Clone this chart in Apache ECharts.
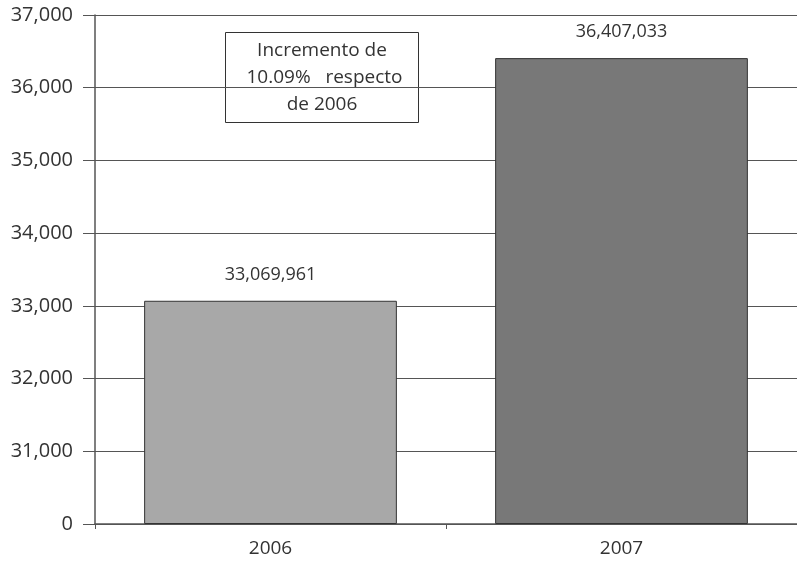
<!DOCTYPE html>
<html>
<head>
<meta charset="utf-8">
<script src="https://cdn.jsdelivr.net/npm/echarts@6/dist/echarts.min.js"></script>
<style>html,body{margin:0;padding:0;background:#fff}#c{width:797px;height:561px}</style>
</head>
<body>
<div id="c"></div>
<script>
// Data
var categories = ['2006', '2007'];
var values = [33069961, 36407033];
var barColors = ['#a8a8a8', '#787878'];
// Axis is broken: bottom tick is 0, then 31,000 .. 37,000 (thousands)
var axisBase = 30000;           // thousands hidden by the axis break
var tickLabels = ['0', '31,000', '32,000', '33,000', '34,000', '35,000', '36,000', '37,000'];
var noteLines = ['Incremento de', ' 10.09%   respecto', 'de 2006'];

function fmt(n) { return n.toString().replace(/\B(?=(\d{3})+(?!\d))/g, ','); }

var chart = echarts.init(document.getElementById('c'));
var FONT = '"Open Sans", sans-serif';
chart.setOption({
  animation: false,
  grid: { left: 95, right: 0, top: 15, bottom: 37, containLabel: false },
  xAxis: {
    type: 'category',
    data: categories,
    axisLine: { show: true, lineStyle: { color: '#555', width: 1.5 } },
    axisTick: { show: true, length: 5, lineStyle: { color: '#555' } },
    axisLabel: { color: '#333', fontSize: 19, fontFamily: FONT, margin: 15 },
    splitLine: { show: false }
  },
  yAxis: {
    type: 'value',
    min: 0, max: 7000, interval: 1000,
    axisLine: { show: true, lineStyle: { color: '#555', width: 1.5 } },
    axisTick: { show: true, length: 12, lineStyle: { color: '#555' } },
    axisLabel: {
      color: '#333', fontSize: 20, fontFamily: FONT, margin: 22,
      formatter: function (v) { return tickLabels[Math.round(v / 1000)]; }
    },
    splitLine: { show: true, lineStyle: { color: '#555', width: 1.2 } }
  },
  series: [{
    type: 'bar',
    barWidth: '72%',
    data: values.map(function (v, i) {
      return { value: v / 1000 - axisBase, itemStyle: { color: barColors[i] } };
    }),
    itemStyle: { borderColor: '#333', borderWidth: 1 },
    label: {
      show: true, position: 'top', distance: 17,
      color: '#333', fontSize: 18, fontFamily: FONT,
      formatter: function (p) { return fmt(values[p.dataIndex]); }
    }
  }],
  graphic: [{
    type: 'group', left: 225, top: 32,
    children: [
      { type: 'rect', shape: { x: 0, y: 0, width: 193, height: 90 },
        style: { fill: '#fff', stroke: '#333', lineWidth: 1 } },
      { type: 'text', x: 96.5, y: 45,
        style: { text: noteLines.join('\n'), fill: '#333', font: '19px ' + FONT,
                 align: 'center', verticalAlign: 'middle', lineHeight: 27 } }
    ]
  }]
});
</script>
</body>
</html>
